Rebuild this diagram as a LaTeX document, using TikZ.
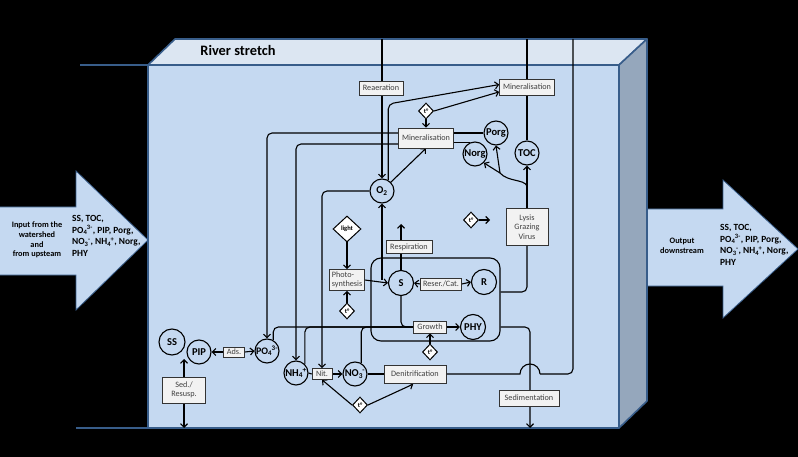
\documentclass[tikz,border=0pt]{standalone}
\usepackage{fontspec}
\setmainfont{Carlito}
\usetikzlibrary{arrows.meta,shapes.geometric}
\pgfdeclarelayer{back}
\pgfdeclarelayer{conn}
\pgfsetlayers{back,conn,main}
\definecolor{front}{HTML}{C5D9F1}
\definecolor{topf}{HTML}{DCE6F2}
\definecolor{side}{HTML}{95A7BC}
\definecolor{edge}{HTML}{385D8A}
\definecolor{boxfill}{HTML}{F2F2F2}
\definecolor{boxtext}{HTML}{404040}
\newcommand\mysubsup[2]{\textsubscript{#1}\kern-0.05em\textsuperscript{#2}}
\begin{document}
\begin{tikzpicture}[x=1pt,y=-1pt,
  conn/.style={line width=1.1pt, black},
  arr/.style={conn, -{Straight Barb[length=3.5pt,width=7pt]}},
  pool/.style={circle, draw, line width=1.1pt, fill=front, minimum size=24pt, inner sep=0pt, font=\fontsize{10.5}{12}\selectfont\bfseries},
  proc/.style={rectangle, draw=black!80, line width=0.6pt, fill=boxfill, inner sep=1pt, text=boxtext, font=\fontsize{8.2}{9.5}\selectfont},
  fac/.style={diamond, draw, line width=1pt, fill=white, inner sep=0pt, minimum width=15pt, minimum height=16pt, font=\fontsize{6.5}{7}\selectfont\bfseries},
  bigarrow/.style={fill=front, draw=edge, line width=0.8pt},
  face/.style={draw=edge, line width=1.6pt, line join=round}
]
\useasboundingbox (0,0) rectangle (798,457);
\begin{pgfonlayer}{back}
  \fill[black] (0,0) rectangle (798,457);
  % input and output arrows
  \filldraw[bigarrow] (-2,207) -- (76,207) -- (76,171) -- (148,240) -- (76,310) -- (76,275) -- (-2,275) -- cycle;
  \filldraw[bigarrow] (647,209) -- (723,209) -- (723,180) -- (798,249) -- (723,318) -- (723,286) -- (647,286) -- cycle;
  % river box
  \filldraw[face, fill=topf] (148,65) -- (175,39) -- (647,39) -- (619,65) -- cycle;
  \filldraw[face, fill=side] (619,65) -- (647,39) -- (647,401) -- (619,428) -- cycle;
  \filldraw[face, fill=front] (148,65) rectangle (619,428);
  \draw[edge, line width=1.6pt] (80,65) -- (148,65);
  \draw[edge, line width=1.6pt] (76,428) -- (148,428);
\end{pgfonlayer}

\node[font=\fontsize{14.4}{16}\selectfont\bfseries] (title) at (238,51) {River stretch};
\node[font=\fontsize{8.3}{9.6}\selectfont\bfseries, align=center, inner sep=0pt] (intxt) at (37,240) {Input from the\\watershed\\and\\from upsteam};
\node[font=\fontsize{9.4}{11.8}\selectfont\bfseries, align=left, anchor=west, inner sep=0pt] (invars) at (72,236) {SS, TOC,\\PO\mysubsup{4}{3-}, PIP, Porg,\\NO\mysubsup{3}{-}, NH\mysubsup{4}{+}, Norg,\\PHY};
\node[font=\fontsize{8.3}{10}\selectfont\bfseries, align=center, inner sep=0pt] (outtxt) at (682,246) {Output\\downstream};
\node[font=\fontsize{9.4}{11.5}\selectfont\bfseries, align=left, anchor=west, inner sep=0pt] (outvars) at (720,245) {SS, TOC,\\PO\mysubsup{4}{3-}, PIP, Porg,\\NO\mysubsup{3}{-}, NH\mysubsup{4}{+}, Norg,\\PHY};

% process boxes, pools, factors
\node[proc, minimum width=44pt, minimum height=14pt] (rea) at (381,88) {Reaeration};
\node[proc, minimum width=55pt, minimum height=16pt] (min1) at (527,87) {Mineralisation};
\node[proc, minimum width=55pt, minimum height=20pt] (min2) at (426,138) {Mineralisation};
\node[fac] (t1) at (426,111) {t°};
\node[pool] (porg) at (496,133) {Porg};
\node[pool] (norg) at (475,154) {Norg};
\node[pool] (toc) at (527,153) {TOC};
\node[pool] (o2) at (382,191) {O\textsubscript{2}};
\node[fac, minimum width=28pt, minimum height=26pt] (light) at (347,229) {light};
\node[proc, minimum width=35pt, minimum height=21pt, align=left] (photo) at (347,280) {Photo-\\synthesis};
\node[fac] (t2) at (347,311) {t°};
\node[draw, line width=1.1pt, rounded corners=10pt, minimum width=129pt, minimum height=83pt] (cell) at (435.5,299.5) {};
\node[proc, minimum width=46pt, minimum height=13pt] (resp) at (409,247) {Respiration};
\node[pool, minimum size=25pt] (s) at (401,283) {S};
\node[proc, minimum width=41pt, minimum height=12pt, inner sep=0.5pt] (resc) at (441,284) {Reser./Cat.};
\node[pool, minimum size=25pt] (r) at (484,282) {R};
\node[proc, minimum width=33pt, minimum height=12pt] (growth) at (430,327) {Growth};
\node[pool, minimum size=25pt] (phy) at (473,327) {PHY};
\node[fac] (t3) at (430,352) {t°};
\node[fac] (t4) at (471,220) {t°};
\node[proc, minimum width=42pt, minimum height=37pt, align=center] (lysis) at (527,227) {Lysis\\Grazing\\Virus};
\node[proc, minimum width=60pt, minimum height=16pt] (sed) at (529,398) {Sedimentation};
\node[proc, minimum width=62pt, minimum height=18pt] (denit) at (415,374) {Denitrification};
\node[fac] (t5) at (360,405) {t°};
\node[pool] (nh4) at (296,373) {NH\mysubsup{4}{+}};
\node[proc, minimum width=20pt, minimum height=11pt, inner sep=0pt] (nit) at (322,374) {Nit.};
\node[pool] (no3) at (355,374) {NO\mysubsup{3}{-}};
\node[pool, font=\fontsize{10}{12}\selectfont\bfseries] (po4) at (267,351) {PO\mysubsup{4}{3-}};
\node[pool, minimum size=26pt] (ss) at (172,342) {SS};
\node[pool] (pip) at (199,352) {PIP};
\node[proc, minimum width=21pt, minimum height=10pt, inner sep=0pt] (ads) at (234,352) {Ads.};
\node[proc, minimum width=43pt, minimum height=26pt, align=center] (sedres) at (184,390) {Sed./\\Resusp.};

% free ends
\coordinate (top1) at (382,39);
\coordinate (top2) at (527,39);
\coordinate (top3) at (573,39);
\coordinate (respout) at (401,224);
\coordinate (lysbr) at (527,186);
\coordinate (bp) at (500,173);
\coordinate (sedout) at (530,428);
\coordinate (hopL) at (520,374);
\coordinate (hopR) at (540,374);
\coordinate (ssb) at (184,359);
\coordinate (sedbot) at (184,428);

\begin{pgfonlayer}{conn}
  \draw[arr] (top1) -- (o2.north);
  \draw[arr, rounded corners=5pt] (o2.60) -- (o2.60 |- 0,104) -- (min1.175);
  \draw[arr] (t1.east) -- (min1.190);
  \draw[arr] (t1.south) -- (min2.north);
  \draw[arr] (o2.45) -- (min2.south);
  \draw[arr, rounded corners=5pt] (min2.west |- 0,133) -| (po4.north);
  \draw[arr, rounded corners=5pt] (min2.west |- 0,144) -| (nh4.north);
  \draw[conn] (min2.east |- porg.west) -- (porg.west);
  \draw[conn] (min2.east |- norg.115) -- (norg.115);
  \draw[arr, rounded corners=5pt] (o2.west) -| (nit.north);
  \draw[conn] (top2) -- (toc.north);
  \draw[arr] (lysis.north) -- (toc.south);
  \draw[conn] (lysbr) .. controls (524,179) and (508,182) .. (bp);
  \draw[arr] (bp) -- (porg.south);
  \draw[arr] (bp) -- (norg.south east);
  \draw[arr] (t4.east) -- ++(11,0);
  \draw[conn, rounded corners=5pt] (cell.east |- 0,292) -| (lysis.south);
  \draw[arr, rounded corners=5pt] (cell.east |- 0,327) -| (sedout);
  \draw[arr] (photo.east) -- (s.west);
  \draw[arr] (o2.south |- photo.east) -- (o2.south);
  \draw[arr] (s.north) -- (respout);
  \draw[arr] (resc.west) -- (s.east);
  \draw[arr] (resc.east) -- (r.west);
  \draw[conn, rounded corners=5pt] (s.south) |- (growth.west);
  \draw[arr] (growth.east) -- (phy.west);
  \draw[arr] (t3.north) -- (growth.south);
  \draw[conn, rounded corners=5pt] (po4.60) |- (growth.west);
  \draw[conn, rounded corners=5pt] (nh4.45) |- (growth.west);
  \draw[conn, rounded corners=5pt] (no3.60) |- (growth.west);
  \draw[conn] (nh4.east) -- (nit.west);
  \draw[arr] (nit.east) -- (no3.west);
  \draw[conn] (no3.east) -- (denit.west);
  \draw[conn] (denit.east) -- (hopL) arc[start angle=180, end angle=360, radius=10];
  \draw[conn, rounded corners=5pt] (hopR) -| (top3);
  \draw[arr] (t5.west) -- (nit.south);
  \draw[arr, shorten >=2pt] (t5.east) -- (denit.south);
  \draw[arr] (ads.west) -- (pip.east);
  \draw[arr] (ads.east) -- (po4.west);
  \draw[arr] (sedres.north) -- (ssb);
  \draw[arr] (sedres.south) -- (sedbot);
  \draw[arr] (light.south) -- (photo.north);
  \draw[arr] (t2.north) -- (photo.south);
\end{pgfonlayer}
\end{tikzpicture}
\end{document}
